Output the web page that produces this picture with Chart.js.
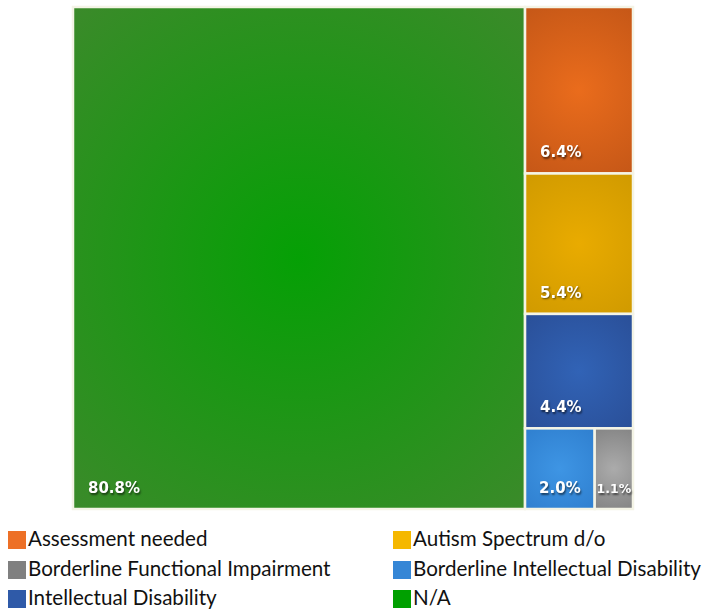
<!DOCTYPE html>
<html>
<head>
<meta charset="utf-8">
<script src="https://cdn.jsdelivr.net/npm/chart.js@4.4.1/dist/chart.umd.min.js"></script>
<style>
  html, body { margin: 0; padding: 0; background: #ffffff; }
  #wrap { position: relative; width: 706px; height: 611px; }
  #chartBox { position: absolute; left: 0; top: 0; width: 706px; height: 515px; }
  #legend { position: absolute; left: 0; top: 523px; width: 706px; font-family: Lato, "Open Sans", sans-serif; font-size: 20.6px; color: #111111; }
  .li { position: absolute; height: 22px; line-height: 22px; white-space: nowrap; }
  .sw { display: inline-block; width: 18px; height: 18px; vertical-align: -3px; margin-right: 2px; }
</style>
</head>
<body>
<div id="wrap">
  <div id="chartBox"><canvas id="c"></canvas></div>
  <div id="legend"></div>
</div>
<script>
// ---- data ----
const categories = ['N/A', 'Assessment needed', 'Autism Spectrum d/o', 'Intellectual Disability', 'Borderline Intellectual Disability', 'Borderline Functional Impairment'];
const values = [80.8, 6.4, 5.4, 4.4, 2.0, 1.1];
const labels = ['80.8%', '6.4%', '5.4%', '4.4%', '2.0%', '1.1%'];
const centerColors = ['#05a005', '#ea6c1c', '#e9ab00', '#3163b6', '#3e95e4', '#ababab'];
const edgeColors = ['#3b8a2a', '#c55717', '#d09a00', '#2a4f98', '#2f7fcf', '#848484'];
const legendOrder = ['Assessment needed', 'Autism Spectrum d/o', 'Borderline Functional Impairment', 'Borderline Intellectual Disability', 'Intellectual Disability', 'N/A'];
const legendColors = ['#ed7026', '#f5b800', '#808080', '#3586d6', '#2f5aa8', '#00a000'];

// squarified treemap layout, computed in pixel-proportional units then expressed in axis units
function squarify(vals, W, H) {
  const total = vals.reduce((a, b) => a + b, 0);
  const areas = vals.map(v => v / total * W * H);
  const out = [];
  let x = 0, y = 0, w = W, h = H;
  let i = 0;
  function worst(row, side) {
    const s = row.reduce((a, b) => a + b, 0);
    let mx = 0;
    for (const a of row) {
      const r = Math.max(side * side * a / (s * s), (s * s) / (side * side * a));
      mx = Math.max(mx, r);
    }
    return mx;
  }
  while (i < areas.length) {
    const side = Math.min(w, h);
    let row = [areas[i]];
    let j = i + 1;
    while (j < areas.length && worst(row.concat([areas[j]]), side) <= worst(row, side)) {
      row.push(areas[j]); j++;
    }
    const s = row.reduce((a, b) => a + b, 0);
    if (w >= h) {
      const cw = s / h;
      let yy = y;
      for (let k = 0; k < row.length; k++) {
        const ch = row[k] / cw;
        out.push({ x0: x, x1: x + cw, y0: yy, y1: yy + ch });
        yy += ch;
      }
      x += cw; w -= cw;
    } else {
      const rh = s / w;
      let xx = x;
      for (let k = 0; k < row.length; k++) {
        const rw = row[k] / rh;
        out.push({ x0: xx, x1: xx + rw, y0: y, y1: y + rh });
        xx += rw;
      }
      y += rh; h -= rh;
    }
    i = j;
  }
  return out;
}

const treemapPlugin = {
  id: 'treemapCells',
  afterDraw(chart) {
    const ctx = chart.ctx;
    const xs = chart.scales.x, ys = chart.scales.y;
    const area = chart.chartArea;
    const W = area.right - area.left, H = area.bottom - area.top;
    const cells = squarify(values, W, H);
    cells.forEach((c, idx) => {
      // express in axis units (0..100) and map through the scales
      const l = xs.getPixelForValue(c.x0 / W * 100);
      const r = xs.getPixelForValue(c.x1 / W * 100);
      const t = ys.getPixelForValue(c.y0 / H * 100);
      const b = ys.getPixelForValue(c.y1 / H * 100);
      const cw = r - l, ch = b - t;
      const cx = (l + r) / 2, cy = (t + b) / 2;
      const rad = Math.sqrt(cw * cw + ch * ch) / 2;
      const g = ctx.createRadialGradient(cx, cy, 0, cx, cy, rad);
      g.addColorStop(0, centerColors[idx]);
      g.addColorStop(1, edgeColors[idx]);
      ctx.save();
      ctx.fillStyle = g;
      ctx.fillRect(l, t, cw, ch);
      ctx.strokeStyle = '#f4f4e6';
      ctx.lineWidth = 2.5;
      ctx.strokeRect(l, t, cw, ch);
      ctx.restore();
    });
    cells.forEach((c, idx) => {
      const l = xs.getPixelForValue(c.x0 / W * 100);
      const r = xs.getPixelForValue(c.x1 / W * 100);
      const b = ys.getPixelForValue(c.y1 / H * 100);
      const cw = r - l;
      ctx.save();
      let size = 15;
      ctx.font = 'bold ' + size + 'px "DejaVu Sans", sans-serif';
      let tw = ctx.measureText(labels[idx]).width;
      if (tw + 4 > cw) {
        size = 12.5;
        ctx.font = 'bold ' + size + 'px "DejaVu Sans", sans-serif';
        tw = ctx.measureText(labels[idx]).width;
      }
      const tx = l + Math.max(0, Math.min(15, (cw - tw) / 2));
      ctx.fillStyle = '#ffffff';
      ctx.shadowColor = 'rgba(0,0,0,0.55)';
      ctx.shadowOffsetX = 1;
      ctx.shadowOffsetY = 1.5;
      ctx.shadowBlur = 2;
      ctx.textBaseline = 'alphabetic';
      ctx.fillText(labels[idx], tx, b - 16);
      ctx.restore();
    });
  }
};

new Chart(document.getElementById('c'), {
  type: 'scatter',
  data: { datasets: [{ label: 'cells', data: [], showLine: false }] },
  options: {
    responsive: true,
    maintainAspectRatio: false,
    animation: false,
    layout: { padding: { left: 73, right: 73, top: 7, bottom: 6 } },
    plugins: { legend: { display: false }, tooltip: { enabled: false }, title: { display: false } },
    scales: {
      x: { type: 'linear', min: 0, max: 100, display: false },
      y: { type: 'linear', min: 0, max: 100, reverse: true, display: false }
    }
  },
  plugins: [treemapPlugin]
});

// HTML legend, two columns
const legendEl = document.getElementById('legend');
legendOrder.forEach((name, i) => {
  const col = i % 2, row = Math.floor(i / 2);
  const d = document.createElement('div');
  d.className = 'li';
  d.style.left = (col === 0 ? 8 : 393) + 'px';
  d.style.top = (row * 29.5 + 4) + 'px';
  const sw = document.createElement('span');
  sw.className = 'sw';
  sw.style.background = legendColors[i];
  d.appendChild(sw);
  d.appendChild(document.createTextNode(name));
  legendEl.appendChild(d);
});
</script>
</body>
</html>
